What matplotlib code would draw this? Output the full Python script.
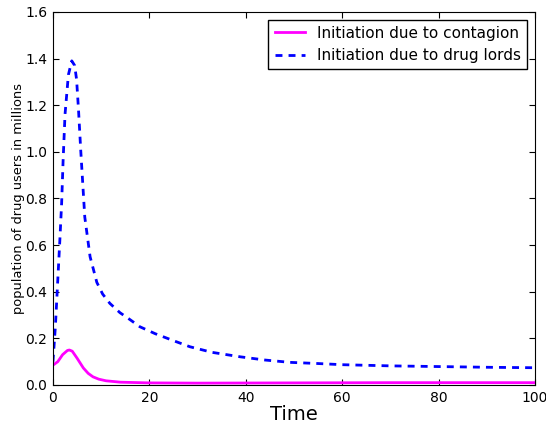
import matplotlib
matplotlib.use("Agg")
import matplotlib.pyplot as plt

# values
t_lords = [0, 0.5, 1.0, 1.45, 1.8, 2.1, 2.5, 3.2, 3.9, 4.5, 4.9, 5.3, 5.75, 6.6,
           7.7, 9.1, 10.3, 11.8, 13.9, 16, 18, 21.2, 25, 28.4, 33, 38.8, 44, 49.2,
           55, 60, 70, 80, 90, 100]
users_lords = [0.10, 0.25, 0.45, 0.63, 0.78, 0.96, 1.16, 1.33, 1.39, 1.37, 1.31, 1.18,
               1.01, 0.72, 0.55, 0.44, 0.39, 0.35, 0.31, 0.28, 0.25, 0.22, 0.19,
               0.164, 0.14, 0.121, 0.107, 0.097, 0.092, 0.087, 0.082, 0.079, 0.076,
               0.074]

t_contagion = [0, 1, 2, 3, 3.4, 4, 5, 6.3, 7.3, 8.3, 9.5, 11, 14, 20, 30, 50, 70, 100]
users_contagion = [0.085, 0.10, 0.13, 0.148, 0.15, 0.145, 0.115, 0.073, 0.05, 0.035,
                   0.025, 0.018, 0.012, 0.009, 0.008, 0.009, 0.01, 0.01]

label_contagion = "Initiation due to contagion"
label_lords = "Initiation due to drug lords"

fig = plt.figure(figsize=(5.46, 4.24), dpi=100)
ax = fig.add_axes([0.097, 0.092, 0.883, 0.88])

ax.plot(t_contagion, users_contagion, color="magenta", lw=2, label=label_contagion)
ax.plot(t_lords, users_lords, color="blue", lw=2, ls="--", dashes=(2.5, 2.2),
        label=label_lords)

ax.set_xlim(0, 100)
ax.set_ylim(0, 1.6)
ax.set_xticks([0, 20, 40, 60, 80, 100])
ax.set_yticks([0.0, 0.2, 0.4, 0.6, 0.8, 1.0, 1.2, 1.4, 1.6])
ax.set_yticklabels(["0.0", "0.2", "0.4", "0.6", "0.8", "1.0", "1.2", "1.4", "1.6"])
ax.tick_params(direction="in", top=True, right=True, length=4, labelsize=10, pad=4)

ax.set_xlabel("Time", fontsize=14, labelpad=0)
ax.set_ylabel("population of drug users in millions", fontsize=9.4, labelpad=0)

leg = ax.legend(loc="upper right", fontsize=11, fancybox=False, framealpha=1,
                edgecolor="black", borderaxespad=0.5)
leg.get_frame().set_linewidth(1)

fig.savefig("out.png", dpi=100)
